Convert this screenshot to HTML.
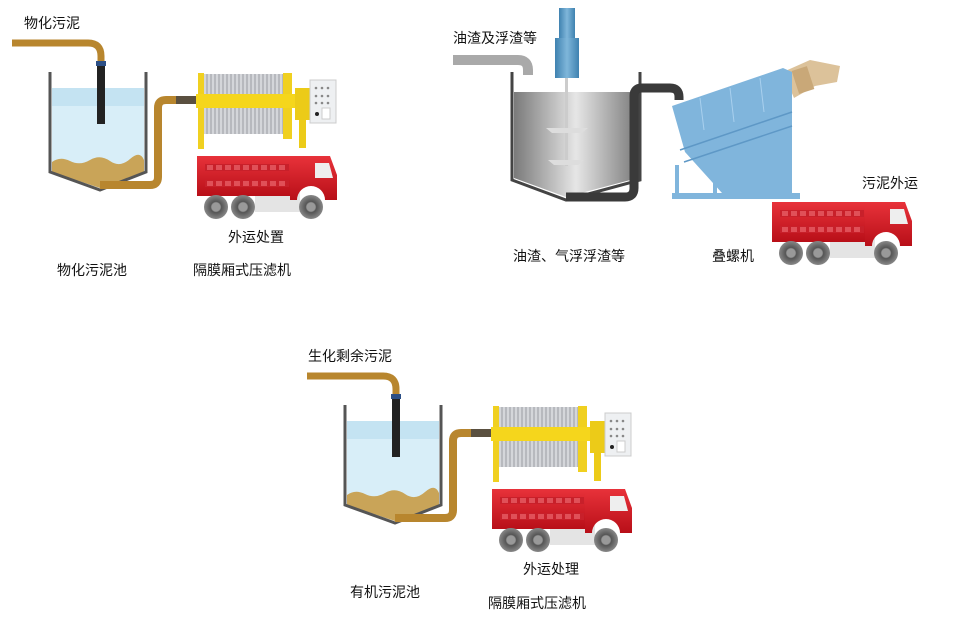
<!DOCTYPE html>
<html><head><meta charset="utf-8"><style>
body{margin:0;background:#fff;width:960px;height:624px;overflow:hidden}
svg{display:block}
text{font-family:"Liberation Sans","Noto Sans CJK SC",sans-serif;font-size:14px;fill:#111}
</style></head><body>
<svg width="960" height="624" viewBox="0 0 960 624" xmlns="http://www.w3.org/2000/svg">
<defs>
<linearGradient id="brn" x1="0" y1="0" x2="0" y2="1"><stop offset="0" stop-color="#c99a3e"/><stop offset="0.5" stop-color="#b8862e"/><stop offset="1" stop-color="#8f6420"/></linearGradient>
<linearGradient id="red" x1="0" y1="0" x2="0" y2="1"><stop offset="0" stop-color="#e8323a"/><stop offset="1" stop-color="#b80f18"/></linearGradient>
<linearGradient id="gry" x1="0" y1="0" x2="1" y2="0"><stop offset="0" stop-color="#7a7a7a"/><stop offset="0.5" stop-color="#e6e6e6"/><stop offset="1" stop-color="#7a7a7a"/></linearGradient>
<linearGradient id="blu" x1="0" y1="0" x2="1" y2="0"><stop offset="0" stop-color="#3f82b0"/><stop offset="0.5" stop-color="#7fb6da"/><stop offset="1" stop-color="#3f82b0"/></linearGradient>
<radialGradient id="whl"><stop offset="0.35" stop-color="#999"/><stop offset="0.45" stop-color="#555"/><stop offset="1" stop-color="#888"/></radialGradient>
<g id="truck">
 <rect x="255" y="192" width="45" height="20" fill="#e4e4e4"/>
 <rect x="197" y="156" width="98" height="40" fill="url(#red)"/>
 <path d="M290 156 H330 L337 175 V200 H325 A14 14 0 0 0 297 200 H290 Z" fill="url(#red)"/>
 <path d="M315 163 H329 L333 178 H315 Z" fill="#eee"/>
 <g fill="#c8202a"><rect x="205" y="164" width="84" height="7"/><rect x="205" y="180" width="84" height="7"/></g>
 <g fill="#e05058">
  <rect x="207" y="165" width="6" height="5"/><rect x="216" y="165" width="6" height="5"/><rect x="225" y="165" width="6" height="5"/><rect x="234" y="165" width="6" height="5"/><rect x="243" y="165" width="6" height="5"/><rect x="252" y="165" width="6" height="5"/><rect x="261" y="165" width="6" height="5"/><rect x="270" y="165" width="6" height="5"/><rect x="279" y="165" width="6" height="5"/>
  <rect x="207" y="181" width="6" height="5"/><rect x="216" y="181" width="6" height="5"/><rect x="225" y="181" width="6" height="5"/><rect x="234" y="181" width="6" height="5"/><rect x="243" y="181" width="6" height="5"/><rect x="252" y="181" width="6" height="5"/><rect x="261" y="181" width="6" height="5"/><rect x="270" y="181" width="6" height="5"/><rect x="279" y="181" width="6" height="5"/>
 </g>
 <circle cx="216" cy="207" r="12" fill="url(#whl)"/><circle cx="243" cy="207" r="12" fill="url(#whl)"/><circle cx="311" cy="207" r="12" fill="url(#whl)"/>
</g>
<g id="press">
 <rect x="204" y="74" width="81" height="60" fill="#d4d6da"/>
 <g stroke="#9a9ca2" stroke-width="1">
  <path d="M207 74V134M211 74V134M215 74V134M219 74V134M223 74V134M227 74V134M231 74V134M235 74V134M239 74V134M243 74V134M247 74V134M251 74V134M255 74V134M259 74V134M263 74V134M267 74V134M271 74V134M275 74V134M279 74V134M283 74V134"/>
 </g>
 <rect x="198" y="73" width="6" height="76" fill="#f0d020"/>
 <rect x="283" y="73" width="9" height="66" fill="#f0d020"/>
 <rect x="196" y="94" width="108" height="14" fill="#f5d61c"/>
 <rect x="295" y="88" width="17" height="32" fill="#eccb18"/>
 <rect x="299" y="118" width="7" height="30" fill="#eccb18"/>
 <rect x="310" y="80" width="26" height="43" fill="#eef0f2" stroke="#ccc"/>
 <g fill="#888"><circle cx="316" cy="88" r="1.3"/><circle cx="322" cy="88" r="1.3"/><circle cx="328" cy="88" r="1.3"/><circle cx="316" cy="96" r="1.3"/><circle cx="322" cy="96" r="1.3"/><circle cx="328" cy="96" r="1.3"/><circle cx="316" cy="103" r="1.3"/><circle cx="322" cy="103" r="1.3"/><circle cx="328" cy="103" r="1.3"/></g>
 <circle cx="317" cy="114" r="2" fill="#222"/><rect x="322" y="108" width="8" height="11" fill="#fff" stroke="#ccc"/>
</g>
<g id="tank">
 <path d="M52 88 H144 V172 L100 188 L52 172 Z" fill="#d8eef8"/>
 <rect x="52" y="88" width="92" height="18" fill="#c4e3f2"/>
 <path d="M52 162 Q60 156 70 161 T90 160 T110 161 T130 159 T144 160 V172 L100 188 L52 172 Z" fill="#c9a458"/>
 <path d="M50 72 V172 L100 190 L146 172 V72" fill="none" stroke="#555" stroke-width="3"/>
 <path d="M12 43 H88 Q101 43 101 56 V64" fill="none" stroke="#b8862e" stroke-width="7"/>
 <rect x="96" y="61" width="10" height="5" fill="#2c4f86"/>
 <rect x="97" y="66" width="8" height="58" fill="#222"/>
 <path d="M100 185 H150 Q158 185 158 177 V108 Q158 100 166 100 H196" fill="none" stroke="#b8862e" stroke-width="8"/>
 <rect x="176" y="96" width="20" height="8" fill="#5a5040"/>
</g>
</defs>

<use href="#tank"/><use href="#press"/><use href="#truck"/>
<text x="24" y="28">物化污泥</text>
<text x="228" y="242">外运处置</text>
<text x="57" y="275">物化污泥池</text>
<text x="193" y="275">隔膜厢式压滤机</text>

<g transform="translate(295,333)"><use href="#tank"/><use href="#press"/><use href="#truck"/></g>
<text x="308" y="361">生化剩余污泥</text>
<text x="523" y="574">外运处理</text>
<text x="350" y="597">有机污泥池</text>
<text x="488" y="608">隔膜厢式压滤机</text>

<!-- top right -->
<path d="M453 60 H518 Q528 60 528 70 V75" fill="none" stroke="#a9a9a9" stroke-width="10"/>
<path d="M514 92 H638 V178 L566 197 L514 178 Z" fill="url(#gry)"/>
<path d="M512 72 V180 L566 200 L640 180 V72" fill="none" stroke="#444" stroke-width="3"/>
<path d="M566 197 H625 Q634 197 634 188 V96 Q634 88 642 88 H670 Q679 88 679 97 V100" fill="none" stroke="#3a3a3a" stroke-width="9"/>
<rect x="559" y="8" width="16" height="30" fill="url(#blu)"/>
<rect x="555" y="38" width="24" height="40" fill="url(#blu)"/>
<rect x="565" y="78" width="3" height="88" fill="#ccc"/>
<path d="M546 128 H588 L582 133 H552 Z M548 160 H584 L578 165 H554 Z" fill="#ddd"/>
<path d="M783 72 L810 60 L820 62 L840 66 L837 82 L815 86 L794 98 Z" fill="#dcc29a"/>
<rect x="795" y="68" width="16" height="24" fill="#c9a878" transform="rotate(-18 803 80)"/>
<path d="M672 106 L783 68 L792 72 L792 193 L722 193 L685 152 Z" fill="#80b5dc"/>
<path d="M680 150 L792 112 M684 162 L792 126" stroke="#5e98c6" stroke-width="1.5"/>
<path d="M700 98 L704 130 M730 88 L734 122 M760 78 L764 112" stroke="#a9d0ee"/>
<rect x="672" y="193" width="128" height="6" fill="#80b5dc"/>
<g fill="#80b5dc"><rect x="675" y="165" width="4" height="28"/><rect x="713" y="175" width="4" height="18"/><rect x="750" y="170" width="4" height="23"/></g>
<use href="#truck" transform="translate(575,46)"/>
<text x="453" y="43">油渣及浮渣等</text>
<text x="513" y="261">油渣、气浮浮渣等</text>
<text x="712" y="261">叠螺机</text>
<text x="862" y="188">污泥外运</text>
</svg>
</body></html>
